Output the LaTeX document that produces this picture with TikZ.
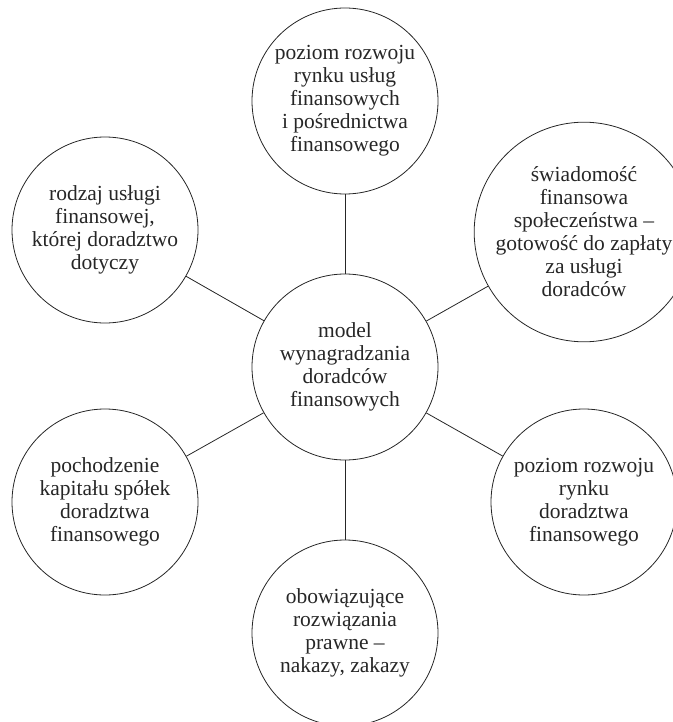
\documentclass[tikz,border=0pt]{standalone}
\usepackage{fontspec}
\setmainfont{Liberation Serif}
\begin{document}
\begin{tikzpicture}[x=1pt,y=-1pt,
  factor/.style={draw=black!85,line width=0.8pt,circle,minimum size=186pt,inner sep=0pt,
    align=center,text=black!85,font=\fontsize{21.5}{23}\selectfont},
  link/.style={draw=black!85,line width=0.8pt}]
  \useasboundingbox (0,0) rectangle (672,722);
  % centre
  \node[factor] (model) at (345,367) {model\\wynagradzania\\doradców\\finansowych};
  % factors around
  \node[factor] (rynekusl) at (345,101) {poziom rozwoju\\rynku usług\\finansowych\\i pośrednictwa\\finansowego};
  \node[factor] (swiadom) at (584,232) {świadomość\\finansowa\\społeczeństwa –\\gotowość do zapłaty\\za usługi\\doradców};
  \node[factor] (rynekdor) at (584,502) {poziom rozwoju\\rynku\\doradztwa\\finansowego};
  \node[factor] (prawo) at (345,633) {obowiązujące\\rozwiązania\\prawne –\\nakazy, zakazy};
  \node[factor] (kapital) at (105,502) {pochodzenie\\kapitału spółek\\doradztwa\\finansowego};
  \node[factor] (usluga) at (105,230) {rodzaj usługi\\finansowej,\\której doradztwo\\dotyczy};
  \foreach \f in {rynekusl,swiadom,rynekdor,prawo,kapital,usluga}
    \draw[link] (model) -- (\f);
\end{tikzpicture}
\end{document}
